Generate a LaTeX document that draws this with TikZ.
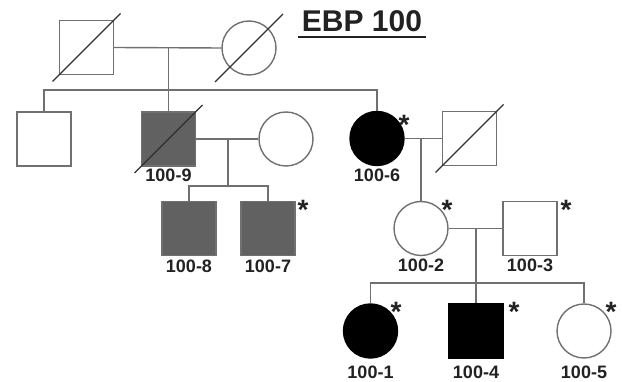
\documentclass[tikz,border=0pt]{standalone}
\usepackage{fontspec}
\setmainfont{Liberation Sans}
\definecolor{linegray}{HTML}{707070}
\definecolor{slashgray}{HTML}{303030}
\definecolor{affgray}{HTML}{616161}
\definecolor{inkgray}{HTML}{222222}
\begin{document}
\begin{tikzpicture}[x=1pt,y=-1pt,
  rel/.style={draw=linegray,line width=1.4pt},
  person/.style={draw=linegray,line width=1.4pt,inner sep=0pt,minimum size=54pt},
  male/.style={person,rectangle},
  female/.style={person,circle},
  partial/.style={fill=affgray},
  full/.style={fill=black,draw=black},
  slash/.style={draw=slashgray,line width=1.4pt},
  idlabel/.style={anchor=base,text=inkgray,font=\bfseries\fontsize{18}{18}\selectfont},
  tested/.style={anchor=base,text=inkgray,font=\bfseries\fontsize{28}{28}\selectfont},
  titletext/.style={anchor=base,text=inkgray,font=\bfseries\fontsize{30}{30}\selectfont}]
\useasboundingbox (0,0) rectangle (622,382);

% title
\node[titletext] (title) at (362,32) {EBP 100};
\draw[inkgray,line width=2.2pt] ([yshift=-5pt]title.base west) -- ([yshift=-5pt]title.base east);

% generation I
\node[male] (g1m) at (86.5,47.5) {};
\node[female] (g1f) at (249,48) {};
\draw[slash] ([shift={(-34,34)}]g1m.center) -- ([shift={(34,-34)}]g1m.center);
\draw[slash] ([shift={(-34,34)}]g1f.center) -- ([shift={(34,-34)}]g1f.center);

% generation II
\node[male] (u1) at (44,139) {};
\node[male,partial] (p9) at (168.5,139) {};
\node[female] (w9) at (286,139) {};
\node[female,full] (p6) at (377,138.5) {};
\node[male] (h6) at (469.5,138.5) {};
\draw[slash] ([shift={(-34,34)}]p9.center) -- ([shift={(34,-34)}]p9.center);
\draw[slash] ([shift={(-34,34)}]h6.center) -- ([shift={(34,-34)}]h6.center);

% generation III
\node[male,partial] (p8) at (189,228.5) {};
\node[male,partial] (p7) at (268,228.5) {};
\node[female] (p2) at (421,228.5) {};
\node[male] (p3) at (530,228.5) {};

% generation IV
\node[female,full] (p1) at (370.5,331) {};
\node[male,full] (p4) at (476,331) {};
\node[female] (p5) at (584,331) {};

% marriage lines
\draw[rel] (g1m.east) -- (g1f.west);
\draw[rel] (p9.east) -- (w9.west);
\draw[rel] (p6.east) -- (h6.west);
\draw[rel] (p2.east) -- (p3.west);

% line of descent, generation I to II
\coordinate (m1) at (168.5,47.5);
\coordinate (s1) at (168.5,90);
\draw[rel] (m1) -- (p9.north);
\draw[rel] (u1.north) |- (s1) -| (p6.north);

% children of 100-9
\coordinate (m9) at (228,139);
\coordinate (s9) at (228,186);
\draw[rel] (m9) -- (s9);
\draw[rel] (p8.north) |- (s9) -| (p7.north);

% child of 100-6
\coordinate (m6) at (421,138.5);
\draw[rel] (m6) -- (p2.north);

% children of 100-2 and 100-3
\coordinate (m2) at (476,228.5);
\coordinate (s2) at (476,283);
\draw[rel] (m2) -- (p4.north);
\draw[rel] (p1.north) |- (s2) -| (p5.north);

% identifiers
\node[idlabel] at (168.5,182) {100-9};
\node[idlabel] at (377,182) {100-6};
\node[idlabel] at (189,273) {100-8};
\node[idlabel] at (268,273) {100-7};
\node[idlabel] at (421,272) {100-2};
\node[idlabel] at (530,272) {100-3};
\node[idlabel] at (370.5,379) {100-1};
\node[idlabel] at (476,379) {100-4};
\node[idlabel] at (584,379) {100-5};

% sampled individuals
\node[tested] at (404,135) {*};
\node[tested] at (303,220) {*};
\node[tested] at (447,220) {*};
\node[tested] at (566,220) {*};
\node[tested] at (396,322) {*};
\node[tested] at (514,322) {*};
\node[tested] at (611,322) {*};
\end{tikzpicture}
\end{document}
